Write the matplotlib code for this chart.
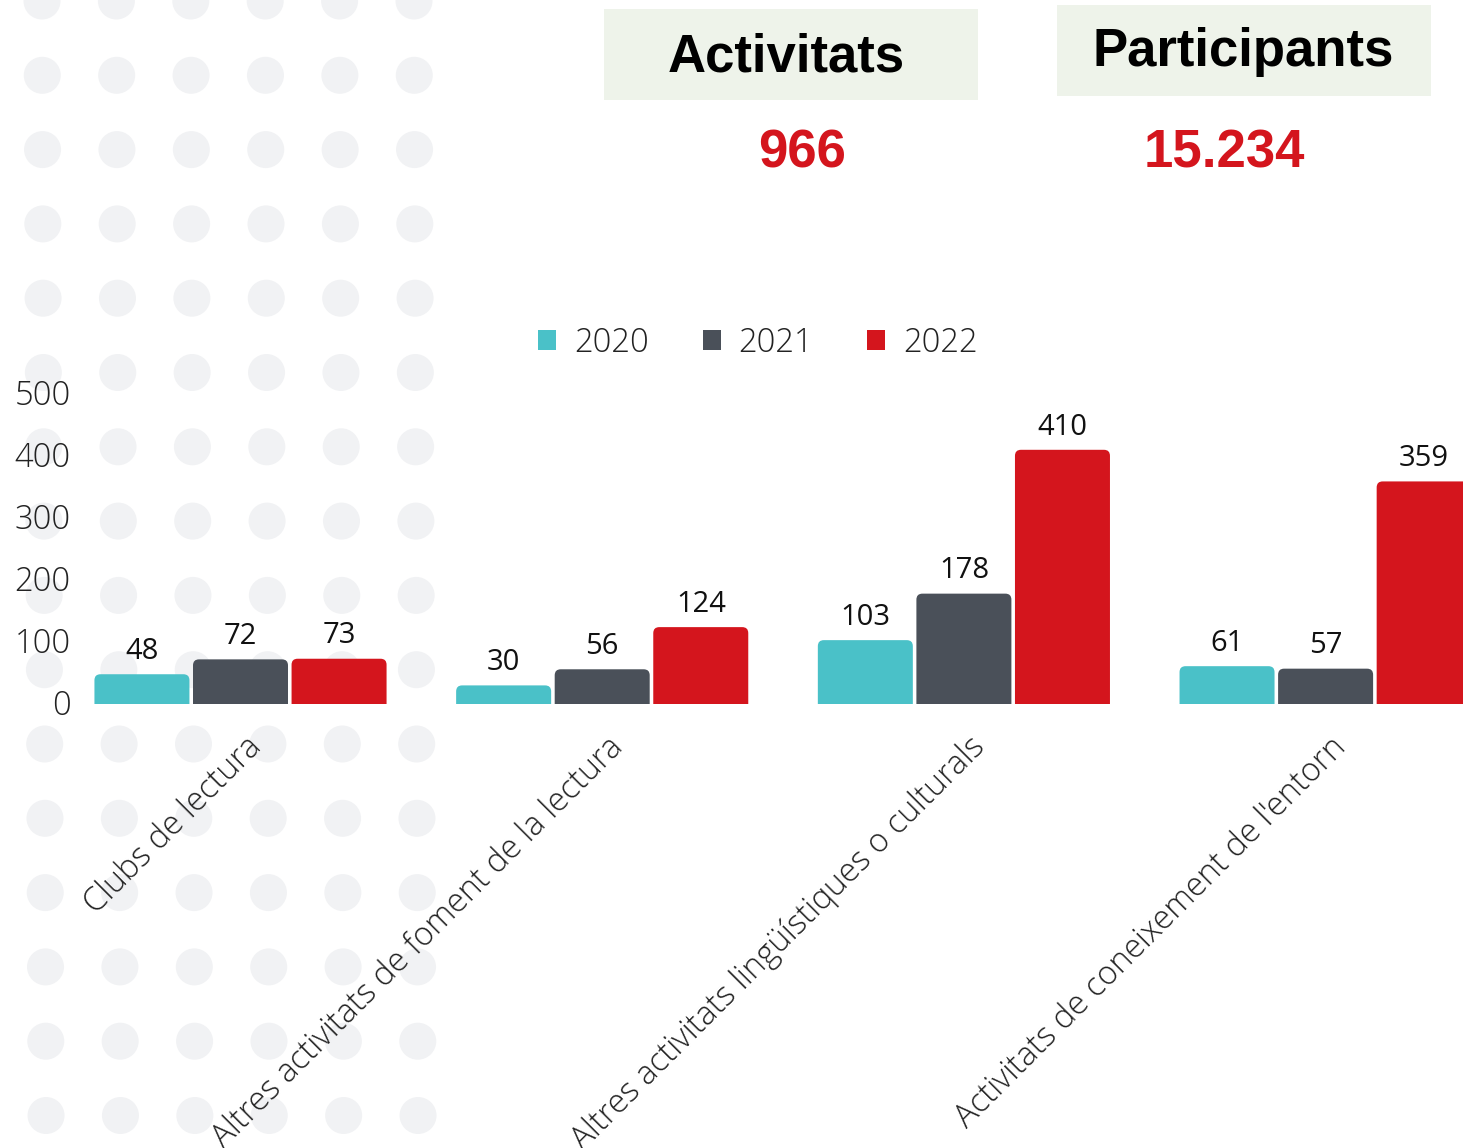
#!/usr/bin/env python3

import numpy as np
import matplotlib
matplotlib.use("Agg")
import matplotlib.pyplot as plt
from matplotlib.patches import Circle, Rectangle, FancyBboxPatch, Patch
from matplotlib.transforms import ScaledTranslation

# data
categories = [
    "Clubs de lectura",
    "Altres activitats de foment de la lectura",
    "Altres activitats lingüístiques o culturals",
    "Activitats de coneixement de l'entorn",
]
years = ["2020", "2021", "2022"]
values_2020 = [48, 30, 103, 61]
values_2021 = [72, 56, 178, 57]
values_2022 = [73, 124, 410, 359]
yticks = [0, 100, 200, 300, 400, 500]

kpi_titles = ["Activitats", "Participants"]
kpi_values = ["966", "15.234"]

colors = ["#4AC1C8", "#4A5059", "#D4151D"]
W, H = 1463, 1148


def main():
    fig = plt.figure(figsize=(W / 100, H / 100), dpi=100)
    fig.patch.set_facecolor("white")

    # background layer in pixel coordinates
    bg = fig.add_axes([0, 0, 1, 1], zorder=-5)
    bg.set_xlim(0, W)
    bg.set_ylim(H, 0)
    bg.axis("off")
    for r in range(16):
        cy = 1 + r * 74.3
        for c in range(6):
            cx = 42 + c * 74.4 + r * 0.27
            bg.add_patch(Circle((cx, cy), 18.5, color="#F1F2F4", lw=0))

    # KPI boxes
    boxes = [(604, 9, 374, 91), (1057, 5, 374, 91)]
    for (bx, by, bw, bh) in boxes:
        bg.add_patch(Rectangle((bx, by), bw, bh, color="#EEF3EA", lw=0))
    title_pos = [(786, 71), (1243, 66)]
    for t, (tx, ty) in zip(kpi_titles, title_pos):
        bg.text(tx, ty, t, ha="center", va="baseline", fontsize=38,
                fontweight="bold", family="Liberation Sans", color="black")
    value_pos = [(802, 167), (1224, 167)]
    for v, (tx, ty) in zip(kpi_values, value_pos):
        bg.text(tx, ty, v, ha="center", va="baseline", fontsize=38,
                fontweight="bold", family="Liberation Sans", color="#D4151D")

    # main chart
    left, right = 75, W
    y0, y500 = 704, 394
    ax = fig.add_axes([left / W, (H - y0) / H, (right - left) / W, (y0 - y500) / H])
    ax.patch.set_alpha(0)
    unit = 361.7
    ax.set_xlim((left - 240.5) / unit, (right - 240.5) / unit)
    ax.set_ylim(0, 500)
    for s in ax.spines.values():
        s.set_visible(False)

    x = np.arange(len(categories))
    offs = [-0.2725, 0.0, 0.2725]
    width = 95 / unit
    series = [values_2020, values_2021, values_2022]

    # radius for rounded top corners (px -> data)
    rx = 6 / unit
    ry = 6 / 0.62
    for vals, off, col, yr in zip(series, offs, colors, years):
        bars = ax.bar(x + off, vals, width=width, color=col, label=yr)
        for b, v in zip(bars, vals):
            bx, bw, bh = b.get_x(), b.get_width(), b.get_height()
            b.set_visible(False)
            p = FancyBboxPatch((bx, -20), bw, bh + 20,
                               boxstyle=f"round,pad=0,rounding_size={rx}",
                               mutation_aspect=ry / rx,
                               facecolor=col, edgecolor="none")
            ax.add_patch(p)
            ax.annotate(str(v), (bx + bw / 2, bh), xytext=(0, 11),
                        textcoords="offset points", ha="center", va="baseline",
                        fontsize=21, family="Open Sans", color="#111111",
                        annotation_clip=False)

    ax.set_yticks(yticks)
    ax.set_yticklabels([str(t) for t in yticks], fontsize=23.5,
                       family="Open Sans", fontweight="light", color="#222222")
    ax.tick_params(axis="y", length=0, pad=3)
    for lbl in ax.get_yticklabels():
        lbl.set_transform(lbl.get_transform() +
                          ScaledTranslation(0, 2 / 100, fig.dpi_scale_trans))
    ax.set_xticks([])

    # rotated category labels
    off_t = ScaledTranslation(16 / 100, -38 / 100, fig.dpi_scale_trans)
    for i, cat in enumerate(categories):
        ax.text(x[i], 0, cat, rotation=45, rotation_mode="anchor",
                ha="right", va="center", fontsize=23.5, family="Open Sans",
                fontweight="light", color="#222222",
                transform=ax.transData + off_t, clip_on=False)

    handles = [Patch(facecolor=c, edgecolor="none") for c in colors]
    leg = fig.legend(handles, years, loc="center",
                     bbox_to_anchor=(758 / W, 1 - 343 / H), ncol=3,
                     frameon=False, handlelength=0.55, handleheight=0.55,
                     handletextpad=0.55, columnspacing=1.65,
                     prop={"family": "Open Sans", "weight": "light", "size": 23.5})
    for t in leg.get_texts():
        t.set_color("#222222")

    fig.savefig("out.png", dpi=100, facecolor="white")
    plt.close(fig)


if __name__ == "__main__":
    main()
